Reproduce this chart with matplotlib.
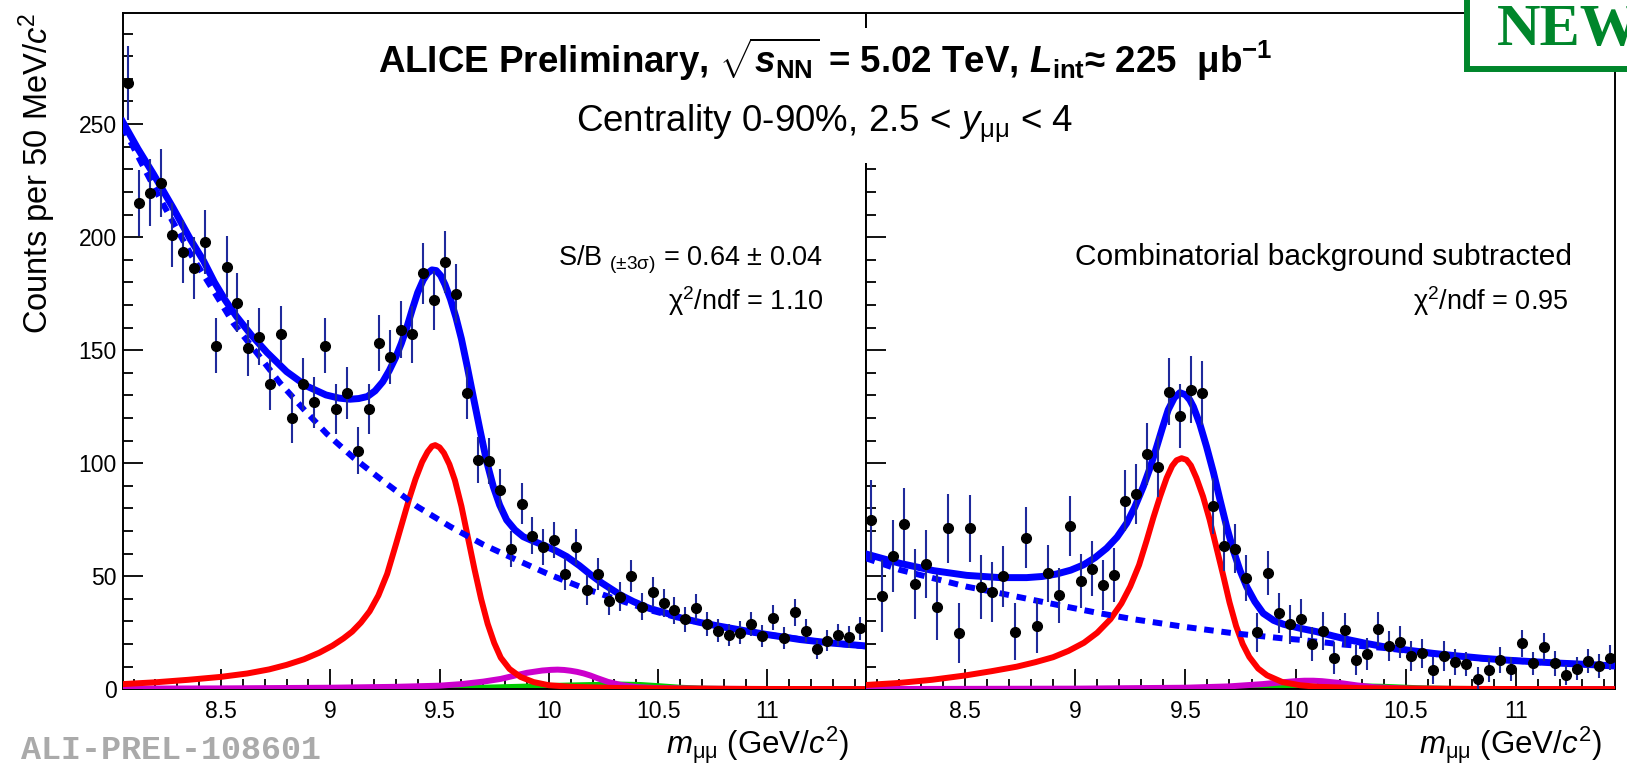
import matplotlib
matplotlib.use("Agg")
import matplotlib.pyplot as plt
import numpy as np
from matplotlib.patches import Rectangle
from matplotlib.ticker import MultipleLocator, FuncFormatter

plt.rcParams['font.family'] = 'Liberation Sans'
plt.rcParams['mathtext.fontset'] = 'custom'
plt.rcParams['mathtext.rm'] = 'Liberation Sans'
plt.rcParams['mathtext.it'] = 'Liberation Sans:italic'
plt.rcParams['mathtext.bf'] = 'Liberation Sans:bold'
plt.rcParams['mathtext.bfit'] = 'Liberation Sans:italic:bold'

# 50 MeV bins, 8.05 - 11.45 GeV/c2
mass_bins = np.round(8.075 + 0.05 * np.arange(68), 3)

left_counts = [268.1, 215.0, 219.7, 223.9, 201.0, 193.6, 186.3, 197.8, 152.0, 187.0,
               171.0, 151.0, 156.0, 135.0, 157.0, 120.0, 135.0, 127.0, 152.0, 124.0,
               131.0, 105.6, 124.0, 153.0, 147.0, 159.0, 157.0, 184.0, 172.0, 189.0,
               175.0, 131.0, 101.5, 101.0, 88.0, 62.0, 82.0, 68.0, 63.0, 66.0,
               51.0, 63.0, 44.0, 51.0, 39.0, 41.0, 50.0, 36.5, 43.0, 38.3,
               35.0, 31.0, 36.0, 29.0, 26.0, 24.0, 25.0, 29.0, 23.6, 31.7,
               22.6, 34.0, 26.0, 17.7, 21.5, 24.0, 23.0, 27.0]
left_err = [16.4, 14.7, 14.8, 15.0, 14.2, 13.9, 13.6, 14.1, 12.3, 13.7,
            13.1, 12.3, 12.5, 11.6, 12.5, 11.0, 11.6, 11.3, 12.3, 11.1,
            11.4, 10.3, 11.1, 12.4, 12.1, 12.6, 12.5, 13.6, 13.1, 13.7,
            13.2, 11.4, 10.1, 10.0, 9.4, 7.9, 9.1, 8.2, 7.9, 8.1,
            7.1, 7.9, 6.6, 7.1, 6.2, 6.4, 7.1, 6.0, 6.6, 6.2,
            5.9, 5.6, 6.0, 5.4, 5.1, 4.9, 5.0, 5.4, 4.9, 5.6,
            4.8, 5.8, 5.1, 4.2, 4.6, 4.9, 4.8, 5.2]

right_counts = [74.9, 41.3, 59.0, 73.0, 46.6, 55.3, 36.3, 71.2, 24.8, 71.2,
                45.1, 43.1, 50.1, 25.5, 67.1, 28.0, 51.3, 41.6, 72.3, 47.9,
                53.4, 46.2, 50.6, 83.5, 86.4, 104.1, 98.5, 131.7, 120.9, 132.4,
                131.0, 81.2, 63.4, 62.2, 49.4, 25.2, 51.3, 33.7, 28.7, 31.3,
                20.0, 25.9, 13.7, 26.2, 13.0, 15.6, 26.7, 19.2, 20.8, 14.7,
                15.9, 8.5, 14.7, 12.2, 11.2, 4.4, 8.5, 13.0, 8.8, 20.4,
                11.5, 18.6, 11.5, 6.3, 9.1, 12.5, 10.3, 14.0]
right_err = [17.7, 15.9, 16.0, 16.2, 15.3, 15.0, 14.7, 15.2, 13.3, 14.8,
             14.1, 13.3, 13.5, 12.5, 13.5, 11.9, 12.5, 12.2, 13.3, 12.0,
             12.3, 11.1, 12.0, 13.4, 13.1, 13.6, 13.5, 14.7, 14.1, 14.8,
             14.3, 12.3, 10.9, 10.8, 10.2, 8.5, 9.8, 8.9, 8.5, 8.7,
             7.7, 8.5, 7.1, 7.7, 6.7, 6.9, 7.7, 6.5, 7.1, 6.7,
             6.4, 6.0, 6.5, 5.8, 5.5, 5.3, 5.4, 5.8, 5.3, 6.0,
             5.2, 6.3, 5.5, 4.5, 5.0, 5.3, 5.2, 5.6]

# fit curves (mass, value)
left_total_m = [8.05, 8.12, 8.19, 8.28, 8.36, 8.42, 8.47, 8.52, 8.57, 8.64, 8.71, 8.80,
                8.89, 8.98, 9.04, 9.09, 9.13, 9.17, 9.205, 9.24, 9.27, 9.30, 9.325,
                9.35, 9.375, 9.40, 9.425, 9.445, 9.465, 9.485, 9.505, 9.525, 9.55,
                9.575, 9.60, 9.625, 9.655, 9.685, 9.715, 9.746, 9.775, 9.807, 9.845,
                9.883, 9.93, 9.975, 10.03, 10.082, 10.14, 10.19, 10.24, 10.28, 10.33,
                10.387, 10.46, 10.54, 10.61, 10.69, 10.77, 10.845, 10.92, 11.0, 11.15,
                11.30, 11.45]
left_total_v = [251, 239, 228, 213, 199, 189.5, 180, 172, 165, 156.5, 149, 140.5,
                134.2, 130.2, 128.8, 128.3, 128.6, 129.5, 132, 136, 141, 147, 153,
                160, 168, 175.5, 181, 184, 185.5, 185.2, 183, 179, 172.5,
                164.5, 155, 143.5, 129, 114.7, 101, 89.6, 81.5, 74.9, 70.5,
                67.5, 65.5, 63.8, 61.4, 58.7, 54.7, 50.8, 47.2, 44.7, 41.6,
                38.8, 35.8, 33.6, 31.4, 29.6, 28.1, 26.8, 25.5, 24.2, 22.0,
                20.4, 19.2]
left_bkg_m = [8.05, 8.14, 8.224, 8.364, 8.48, 8.556, 8.678, 8.77, 8.877, 8.984, 9.105,
              9.243, 9.395, 9.548, 9.70, 9.853, 10.006, 10.158, 10.31, 10.463, 10.6,
              10.75, 10.9, 11.05, 11.2, 11.35, 11.45]
left_bkg_v = [249, 232, 216.5, 192, 174, 162, 147, 135.5, 124, 113, 102.5,
              92, 81, 72, 64, 57.2, 50.6, 44.8, 39.8, 35.0, 31.5,
              28.3, 25.7, 23.5, 21.5, 19.9, 19.0]
left_1s_m = [8.05, 8.2, 8.35, 8.5, 8.62, 8.72, 8.8, 8.88, 8.95, 9.01, 9.06, 9.1, 9.14,
             9.18, 9.22, 9.26, 9.30, 9.33, 9.36, 9.39, 9.42, 9.445, 9.465, 9.48, 9.50,
             9.52, 9.545, 9.57, 9.60, 9.63, 9.66, 9.69, 9.72, 9.75, 9.78, 9.82, 9.87,
             9.93, 10.0, 10.1, 10.3, 10.6, 11.0, 11.45]
left_1s_v = [2.3, 3.1, 4.2, 5.5, 7.0, 8.8, 10.8, 13.3, 16.2, 19.3, 22.5, 25.5, 29.5,
             34.5, 41.5, 51, 64, 74, 84, 93, 100.5, 105, 107.5, 108, 107,
             104.5, 99.5, 92.5, 81, 67, 53, 40, 29, 20.5, 14, 9, 5.5,
             3.2, 1.8, 1.1, 0.6, 0.3, 0.15, 0.08]
left_2s_m = [8.05, 8.5, 9.0, 9.3, 9.5, 9.6, 9.7, 9.78, 9.85, 9.9, 9.97, 10.01, 10.04,
             10.07, 10.1, 10.13, 10.16, 10.19, 10.22, 10.27, 10.33, 10.4, 10.5, 10.7,
             11.0, 11.45]
left_2s_v = [0.3, 0.4, 0.7, 1.1, 1.6, 2.3, 3.4, 4.6, 6.2, 7.3, 8.3, 8.6, 8.7,
             8.55, 8.2, 7.7, 7.0, 6.1, 5.0, 3.3, 1.9, 1.0, 0.5, 0.25,
             0.1, 0.05]
left_3s_m = [8.05, 9.2, 9.5, 9.7, 9.9, 10.1, 10.25, 10.33, 10.42, 10.5, 10.6, 10.7,
             10.85, 11.45]
left_3s_v = [0.0, 0.05, 0.3, 0.7, 1.2, 1.7, 2.0, 2.1, 1.9, 1.4, 0.7, 0.3, 0.1, 0.02]

right_total_m = [8.05, 8.206, 8.357, 8.508, 8.659, 8.78, 8.85, 8.916, 8.98, 9.037, 9.09,
                 9.143, 9.19, 9.234, 9.27, 9.309, 9.34, 9.37, 9.397, 9.422, 9.45, 9.475,
                 9.50, 9.52, 9.536, 9.565, 9.596, 9.627, 9.657, 9.687, 9.717, 9.748,
                 9.778, 9.815, 9.853, 9.9, 9.944, 10.02, 10.095, 10.17, 10.246, 10.32,
                 10.397, 10.51, 10.624, 10.74, 10.85, 10.96, 11.077, 11.19, 11.304, 11.45]
right_total_v = [59.9, 55.7, 52.5, 50.4, 49.4, 49.4, 49.9, 51.0, 52.7, 55.0, 58.2,
                 62.4, 67.3, 73.5, 80.5, 89.6, 98, 107.3, 116, 123.6, 129, 131.2,
                 130.3, 128, 125.0, 117.5, 107.3, 96, 83.8, 72, 61.6, 52.5,
                 45.4, 38.8, 33.6, 30.5, 28.8, 27.0, 25.5, 23.6, 21.8, 20.3,
                 18.9, 17.3, 15.9, 14.7, 13.7, 12.9, 12.2, 11.6, 11.1, 10.3]
right_bkg_m = [8.05, 8.206, 8.357, 8.508, 8.659, 8.81, 8.962, 9.113, 9.264, 9.49,
               9.717, 9.944, 10.02, 10.216, 10.4, 10.62, 10.85, 11.077, 11.304, 11.45]
right_bkg_v = [58.0, 52.8, 49.1, 45.4, 42.5, 39.5, 36.5, 33.6, 31.0, 27.7,
               24.8, 22.5, 21.9, 19.8, 18.3, 15.7, 13.6, 12.1, 11.0, 10.2]
right_1s_m = [8.05, 8.2, 8.35, 8.5, 8.62, 8.735, 8.82, 8.9, 8.97, 9.04, 9.1, 9.16,
              9.21, 9.25, 9.29, 9.325, 9.355, 9.385, 9.415, 9.44, 9.46, 9.483, 9.505,
              9.525, 9.55, 9.58, 9.61, 9.64, 9.67, 9.70, 9.73, 9.76, 9.79, 9.83, 9.87,
              9.94, 10.02, 10.1, 10.3, 10.6, 11.0, 11.45]
right_1s_v = [1.9, 2.8, 4.2, 6.1, 8.0, 10.0, 12.0, 14.2, 17.0, 20.6, 25.0, 31.0,
              38.0, 45.5, 55, 66, 76, 85.2, 93.5, 98.8, 101.3, 102.2, 101.5,
              99.0, 93.5, 85.3, 75, 63, 51, 38.5, 28, 20, 14.3, 9.2, 6.2,
              3.2, 1.8, 1.1, 0.5, 0.25, 0.12, 0.06]
right_2s_m = [8.05, 9.0, 9.5, 9.7, 9.85, 9.95, 10.0, 10.04, 10.08, 10.12, 10.2, 10.28,
              10.36, 10.5, 10.8, 11.45]
right_2s_v = [0.1, 0.3, 0.7, 1.3, 2.3, 3.2, 3.6, 3.8, 3.8, 3.6, 2.8, 1.7,
              0.9, 0.3, 0.1, 0.03]
right_3s_m = [8.05, 9.5, 9.8, 10.0, 10.2, 10.3, 10.4, 10.55, 10.7, 11.0, 11.45]
right_3s_v = [0.0, 0.2, 0.6, 1.0, 1.3, 1.3, 1.1, 0.5, 0.2, 0.05, 0.0]

W, H = 1627, 766
fig = plt.figure(figsize=(W / 100, H / 100), dpi=100)
ax1 = fig.add_axes([122.7 / W, 1 - 689.3 / H, 743 / W, 676 / H])
ax2 = fig.add_axes([865.7 / W, 1 - 689.3 / H, 749.6 / W, 676 / H])

err_col = '#1f2a9c'
panels = [
    (ax1, left_counts, left_err, left_total_m, left_total_v, left_bkg_m, left_bkg_v,
     left_1s_m, left_1s_v, left_2s_m, left_2s_v, left_3s_m, left_3s_v),
    (ax2, right_counts, right_err, right_total_m, right_total_v, right_bkg_m, right_bkg_v,
     right_1s_m, right_1s_v, right_2s_m, right_2s_v, right_3s_m, right_3s_v),
]
for (ax, cnt, err, tm, tv, bm, bv, m1, v1, m2, v2, m3, v3) in panels:
    ax.plot(m3, v3, color='#00cc00', lw=4.3, zorder=2)
    ax.plot(m2, v2, color='#cc00cc', lw=4.3, zorder=3)
    ax.plot(m1, v1, color='#ff0000', lw=4.3, zorder=4, solid_joinstyle='round')
    ax.plot(bm, bv, color='#0000ff', lw=4.3, dashes=(1.6, 1.3), dash_capstyle='butt', zorder=5)
    ax.plot(tm, tv, color='#0000ff', lw=5.0, zorder=6, solid_joinstyle='round')
    ax.errorbar(mass_bins, cnt, yerr=err, fmt='o', color='black', ms=7,
                ecolor=err_col, elinewidth=1.5, capsize=0, zorder=7)
    ax.set_xlim(8.05, 11.45)
    ax.set_ylim(0, 299)
    ax.xaxis.set_major_locator(MultipleLocator(0.5))
    ax.xaxis.set_minor_locator(MultipleLocator(0.1))
    ax.yaxis.set_major_locator(MultipleLocator(50))
    ax.yaxis.set_minor_locator(MultipleLocator(10))
    ax.xaxis.set_major_formatter(FuncFormatter(lambda v, p: '%g' % v))
    ax.tick_params(which='both', direction='in', top=False, right=False, width=1.3)
    ax.tick_params(which='major', length=14.4, labelsize=16.5)
    ax.tick_params(which='minor', length=7.2)
    ax.tick_params(axis='x', pad=7.5)
    ax.tick_params(axis='y', pad=4.3)
    for s in ax.spines.values():
        s.set_linewidth(1.4)

ax2.tick_params(axis='y', labelleft=False)

# white pave behind the header, hides the panel divider
fig.add_artist(Rectangle((370 / W, 1 - 163 / H), 920 / W, 135 / H, transform=fig.transFigure,
                         facecolor='white', edgecolor='none', zorder=5))
fig.text(825 / W, 1 - 73 / H,
         r'ALICE Preliminary, $\sqrt{\mathbfit{s}_{\mathbf{NN}}}$ = 5.02 TeV, '
         r'$\mathbfit{L}_{\mathbf{int}}$≈ 225  μb$^{\mathbf{-1}}$',
         fontsize=26.5, fontweight='bold', ha='center', va='baseline', zorder=6)
fig.text(825 / W, 1 - 132 / H, r'Centrality 0-90%, 2.5 < $y_{\mathrm{μμ}}$ < 4',
         fontsize=26.5, ha='center', va='baseline', zorder=6)

fig.text(823.6 / W, 1 - 265 / H, r'S/B $_{\mathrm{(±3σ)}}$ = 0.64 ± 0.04',
         fontsize=19.5, ha='right', va='baseline')
fig.text(823.6 / W, 1 - 310 / H, r'χ$^{2}$/ndf = 1.10',
         fontsize=19.5, ha='right', va='baseline')
fig.text(1571.7 / W, 1 - 265 / H, 'Combinatorial background subtracted',
         fontsize=21.5, ha='right', va='baseline')
fig.text(1569 / W, 1 - 310 / H, r'χ$^{2}$/ndf = 0.95',
         fontsize=19.5, ha='right', va='baseline')

# axis titles
fig.text(37 / W, 1 - 13 / H, r'Counts per 50 MeV/$c^{2}$', rotation=90,
         fontsize=23.5, ha='center', va='top')
for xr in (849, 1601.7):
    fig.text(xr / W, 1 - 754 / H, r'$m_{\mathrm{μμ}}$ (GeV/$c^{2}$)',
             fontsize=22.5, ha='right', va='baseline')

fig.text(21 / W, 1 - 759 / H, 'ALI-PREL-108601', family='Liberation Mono',
         fontweight='bold', color='#aaaaaa', fontsize=24, ha='left', va='baseline')

# NEW badge (runs off the right edge, as in the original)
fig.add_artist(Rectangle((1466.7 / W, 1 - 69.3 / H), 0.2, 0.2, transform=fig.transFigure,
                         facecolor='white', edgecolor='#00862b', lw=4.3, zorder=5))
fig.text(1496.7 / W, 1 - 45 / H, 'NEW', family='Liberation Serif', fontweight='bold',
         color='#00862b', fontsize=43.5, ha='left', va='baseline', zorder=6)

fig.savefig('out.png', dpi=100)
